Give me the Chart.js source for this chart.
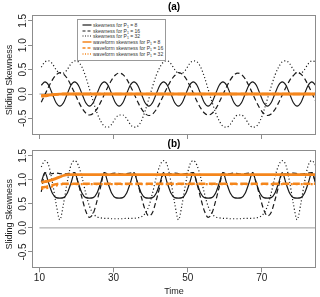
<!DOCTYPE html>
<html><head><meta charset="utf-8">
<script src="https://cdn.jsdelivr.net/npm/chart.js@4.4.1/dist/chart.umd.min.js"></script>
<style>
html,body{margin:0;padding:0;background:#fff;}
#wrap{position:relative;width:320px;height:297px;overflow:hidden;font-family:"Liberation Sans",Arial,sans-serif;}
canvas{position:absolute;left:0;}
#c1{top:0;} #c2{top:138px;}
#legend{position:absolute;left:77px;top:19px;width:89px;height:42px;border:1px solid #999;background:#fff;box-sizing:border-box;}
.row{position:absolute;left:0;height:6px;width:87px;}
.row svg{position:absolute;left:4px;top:0;}
.row span{position:absolute;left:15px;top:0;font-size:5px;line-height:6px;color:#333;white-space:nowrap;}
.row sub{font-size:3.5px;vertical-align:-1px;line-height:0;}
</style></head>
<body><div id="wrap">
<canvas id="c1" width="320" height="140"></canvas>
<canvas id="c2" width="320" height="159"></canvas>
<div id="legend"></div>
</div>
<script>
// ---------- data ----------
const time = [10.5,11.5,12.5,13.5,14.5,15.5,16.5,17.5,18.5,19.5,
  20.5,21.5,22.5,23.5,24.5,25.5,26.5,27.5,28.5,29.5,
  30.5,31.5,32.5,33.5,34.5,35.5,36.5,37.5,38.5,39.5,
  40.5,41.5,42.5,43.5,44.5,45.5,46.5,47.5,48.5,49.5,
  50.5,51.5,52.5,53.5,54.5,55.5,56.5,57.5,58.5,59.5,
  60.5,61.5,62.5,63.5,64.5,65.5,66.5,67.5,68.5,69.5,
  70.5,71.5,72.5,73.5,74.5,75.5,76.5,77.5,78.5,79.5,
  80.5,81.5,82.5,83.5,84.5];
const zeroTime = [10, 86];
const zeroValue = [0, 0];
const xTickValues = [10, 30, 50, 70];
const xTickLabels = ['10', '30', '50', '70'];
const yTickValues = [-0.5, 0, 0.5, 1, 1.5];
const yTickLabels = ['-0.5', '0.0', '0.5', '1.0', '1.5'];
const yTitle = 'Sliding Skewness';
const legendLabels = ['skewness for P<sub>1</sub> = 8','skewness for P<sub>1</sub> = 16','skewness for P<sub>1</sub> = 32',
  'waveform skewness for P<sub>1</sub> = 8','waveform skewness for P<sub>1</sub> = 16','waveform skewness for P<sub>1</sub> = 32'];

// panel (a)
const skewTopP8 = [0.18,
  0.25,0.18,0,-0.18,-0.25,-0.18,0,0.18,
  0.25,0.18,0,-0.18,-0.25,-0.18,0,0.18,
  0.25,0.18,0,-0.18,-0.25,-0.18,0,0.18,
  0.25,0.18,0,-0.18,-0.25,-0.18,0,0.18,
  0.25,0.18,0,-0.18,-0.25,-0.18,0,0.18,
  0.25,0.18,0,-0.18,-0.25,-0.18,0,0.18,
  0.25,0.18,0,-0.18,-0.25,-0.18,0,0.18,
  0.25,0.18,0,-0.18,-0.25,-0.18,0,0.18,
  0.25,0.18,0,-0.18,-0.25,-0.18,0,0.18,
  0.25,0.18];
const skewTopP16 = [-0.17,-0.01,0.15,0.29,0.39,
  0.44,0.41,0.32,0.18,0.02,-0.15,-0.29,-0.39,-0.43,-0.40,-0.31,-0.17,-0.01,0.15,0.29,0.39,
  0.43,0.40,0.31,0.17,0.01,-0.16,-0.30,-0.40,-0.44,-0.41,-0.32,-0.18,-0.02,0.14,0.28,0.38,
  0.44,0.41,0.32,0.18,0.02,-0.15,-0.29,-0.39,-0.43,-0.40,-0.31,-0.17,-0.01,0.15,0.29,0.39,
  0.43,0.40,0.31,0.17,0.01,-0.16,-0.30,-0.40,-0.44,-0.41,-0.32,-0.18,-0.02,0.14,0.28,0.38,
  0.44,0.41,0.32,0.18,0.02,-0.15];
const skewTopP32 = [
  0.55,0.66,0.68,0.62,0.50,0.43,0.43,0.50,0.62,0.68,0.66,0.55,0.35,0.10,-0.15,-0.38,
  -0.55,-0.66,-0.68,-0.62,-0.50,-0.43,-0.43,-0.50,-0.62,-0.68,-0.66,-0.55,-0.35,-0.10,0.15,0.38,
  0.55,0.66,0.68,0.62,0.50,0.43,0.43,0.50,0.62,0.68,0.66,0.55,0.35,0.10,-0.15,-0.38,
  -0.55,-0.66,-0.68,-0.62,-0.50,-0.43,-0.43,-0.50,-0.62,-0.68,-0.66,-0.55,-0.35,-0.10,0.15,0.38,
  0.55,0.66,0.68,0.62,0.50,0.43,0.43,0.50,0.62,0.68,0.66];
const waveTopP8 = [-0.035,-0.03,-0.022,-0.015,-0.008,-0.003,
  0,0,0,0,0,0,0,0,0,0, 0,0,0,0,0,0,0,0,0,0, 0,0,0,0,0,0,0,0,0,0,
  0,0,0,0,0,0,0,0,0,0, 0,0,0,0,0,0,0,0,0,0, 0,0,0,0,0,0,0,0,0,0,
  0,0,0,0,0,0,0,0,0];
const waveTopP16 = [-0.045,-0.04,-0.03,-0.02,-0.012,-0.005,
  0,0,0,0,0,0,0,0,0,0, 0,0,0,0,0,0,0,0,0,0, 0,0,0,0,0,0,0,0,0,0,
  0,0,0,0,0,0,0,0,0,0, 0,0,0,0,0,0,0,0,0,0, 0,0,0,0,0,0,0,0,0,0,
  0,0,0,0,0,0,0,0,0];
const waveTopP32 = [-0.03,-0.025,-0.02,-0.012,-0.006,
  0,0,0,0,0,0,0,0,0,0, 0,0,0,0,0,0,0,0,0,0, 0,0,0,0,0,0,0,0,0,0,
  0,0,0,0,0,0,0,0,0,0, 0,0,0,0,0,0,0,0,0,0, 0,0,0,0,0,0,0,0,0,0,
  0,0,0,0,0,0,0,0,0,0];

// panel (b)
const skewBotP8 = [0.95,
  1.15,0.93,0.72,0.63,0.62,0.63,0.72,0.93,
  1.15,0.93,0.72,0.63,0.62,0.63,0.72,0.93,
  1.15,0.93,0.72,0.63,0.62,0.63,0.72,0.93,
  1.15,0.93,0.72,0.63,0.62,0.63,0.72,0.93,
  1.15,0.93,0.72,0.63,0.62,0.63,0.72,0.93,
  1.15,0.93,0.72,0.63,0.62,0.63,0.72,0.93,
  1.15,0.93,0.72,0.63,0.62,0.63,0.72,0.93,
  1.15,0.93,0.72,0.63,0.62,0.63,0.72,0.93,
  1.15,0.93,0.72,0.63,0.62,0.63,0.72,0.93,
  1.15,0.93];
const skewBotP16 = [0.75,
  1.15,1.12,1.13,1.14,1.13,1.12,1.13,1.14,1.15,0.92,0.62,0.35,0.22,0.30,0.55,0.85,
  1.15,1.12,1.13,1.14,1.13,1.12,1.13,1.14,1.15,0.93,0.64,0.38,0.25,0.32,0.57,0.86,
  1.15,1.12,1.13,1.14,1.13,1.12,1.13,1.14,1.15,0.92,0.62,0.35,0.22,0.30,0.55,0.85,
  1.15,1.12,1.13,1.14,1.13,1.12,1.13,1.14,1.15,0.93,0.64,0.38,0.25,0.32,0.57,0.86,
  1.15,1.12,1.13,1.14,1.13,1.12,1.13,1.14,1.15,0.92];
const skewBotP32 = [
  1.27,1.40,1.30,0.95,0.50,0.17,0.50,0.95,1.30,1.40,1.30,1.05,0.72,0.45,0.30,0.23,
  0.21,0.20,0.20,0.19,0.19,0.19,0.19,0.20,0.20,0.20,0.21,0.23,0.30,0.45,0.72,1.05,
  1.30,1.40,1.30,0.95,0.50,0.17,0.50,0.95,1.30,1.40,1.30,1.05,0.72,0.45,0.30,0.23,
  0.21,0.20,0.20,0.19,0.19,0.19,0.19,0.20,0.20,0.20,0.21,0.23,0.30,0.45,0.72,1.05,
  1.30,1.40,1.30,0.95,0.50,0.17,0.50,0.95,1.30,1.40,1.30];
const waveBotP8 = [0.95,0.96,0.98,1.00,1.03,1.06,1.09,1.11,
  1.11,1.11,1.11,1.11,1.11,1.11,1.11,1.11,1.11,1.11,
  1.11,1.11,1.11,1.11,1.11,1.11,1.11,1.11,1.11,1.11,
  1.11,1.11,1.11,1.11,1.11,1.11,1.11,1.11,1.11,1.11,
  1.11,1.11,1.11,1.11,1.11,1.11,1.11,1.11,1.11,1.11,
  1.11,1.11,1.11,1.11,1.11,1.11,1.11,1.11,1.11,1.11,
  1.11,1.11,1.11,1.11,1.11,1.11,1.11,1.11,1.11,1.11,
  1.11,1.11,1.11,1.11,1.11,1.11,1.11];
const waveBotP16 = [0.84,0.85,0.87,0.89,0.91,0.92,
  0.92,0.92,0.92,0.92,0.92,0.92,0.92,0.92,0.92,0.92,
  0.92,0.92,0.92,0.92,0.92,0.92,0.92,0.92,0.92,0.92,
  0.92,0.92,0.92,0.92,0.92,0.92,0.92,0.92,0.92,0.92,
  0.92,0.92,0.92,0.92,0.92,0.92,0.92,0.92,0.92,0.92,
  0.92,0.92,0.92,0.92,0.92,0.92,0.92,0.92,0.92,0.92,
  0.92,0.92,0.92,0.92,0.92,0.92,0.92,0.92,0.92,0.92,
  0.92,0.92,0.92,0.92,0.92,0.92,0.92,0.92,0.92];
const waveBotP32 = [0.81,0.82,0.84,0.86,0.88,0.90,0.91,
  0.91,0.91,0.91,0.91,0.91,0.91,0.91,0.91,0.91,0.91,
  0.91,0.91,0.91,0.91,0.91,0.91,0.91,0.91,0.91,0.91,
  0.91,0.91,0.91,0.91,0.91,0.91,0.91,0.91,0.91,0.91,
  0.91,0.91,0.91,0.91,0.91,0.91,0.91,0.91,0.91,0.91,
  0.91,0.91,0.91,0.91,0.91,0.91,0.91,0.91,0.91,0.91,
  0.91,0.91,0.91,0.91,0.91,0.91,0.91,0.91,0.91,0.91,
  0.91,0.91,0.91,0.91,0.91,0.91,0.91,0.91];

const all = {skewTopP8,skewTopP16,skewTopP32,waveTopP8,waveTopP16,waveTopP32,
  skewBotP8,skewBotP16,skewBotP32,waveBotP8,waveBotP16,waveBotP32};
for (const k in all) { if (all[k].length !== time.length) throw new Error(k + ' length ' + all[k].length); }

// ---------- styles ----------
const FONT = '"Liberation Sans", Arial, sans-serif';
Chart.defaults.font.family = FONT;
Chart.defaults.color = '#222';
const BLACK = '#1a1a1a', ORANGE = '#F5861C', GRAY = '#9a9a9a';

function series(x, y, color, w, dash) { return {x, y, color, w, dash}; }

const boxPlugin = {
  id: 'box',
  afterDatasetsDraw(chart) {
    const {ctx, chartArea: a} = chart;
    ctx.save();
    ctx.strokeStyle = '#8c8c8c';
    ctx.lineWidth = 1;
    const l = Math.round(a.left) + 0.5, t = Math.round(a.top) + 0.5;
    const r = Math.round(a.right) - 0.5, b = Math.round(a.bottom) - 0.5;
    ctx.strokeRect(l, t, r - l, b - t);
    // y axis title, R-style placement
    ctx.fillStyle = '#222';
    ctx.font = '9px ' + FONT;
    ctx.textAlign = 'center';
    ctx.textBaseline = 'middle';
    ctx.translate(10, (a.top + a.bottom) / 2 + 5);
    ctx.rotate(-Math.PI / 2);
    ctx.fillText(yTitle, 0, 0);
    ctx.restore();
  }
};

function panel(id, title, sets, showX) {
  return new Chart(document.getElementById(id), {
    type: 'line',
    data: { datasets: sets.map(s => ({
      data: s.x.map((t, i) => ({x: t, y: s.y[i]})),
      borderColor: s.color, borderWidth: s.w, borderDash: s.dash,
      pointRadius: 0, fill: false, cubicInterpolationMode: 'monotone', borderCapStyle: 'butt'
    })) },
    options: {
      responsive: false, animation: false, devicePixelRatio: 1,
      layout: {padding: {left: 0, right: 4, top: 0, bottom: 0}},
      plugins: {
        legend: {display: false}, tooltip: {enabled: false},
        title: {display: true, text: title, fullSize: false, color: '#000',
          font: {size: 10, weight: 'bold'}, padding: showX ? {top: 0, bottom: 0} : {top: 1.5, bottom: 1.5}}
      },
      scales: {
        x: {
          type: 'linear', min: 8, max: 84.6,
          afterBuildTicks: s => { s.ticks = xTickValues.map(v => ({value: v})); },
          afterFit: s => { s.height = showX ? 28.7 : 5; },
          grid: {drawOnChartArea: false, drawTicks: true, tickLength: 4, color: '#8c8c8c'},
          border: {display: false},
          ticks: {display: showX, padding: 0, font: {size: 10}, color: '#222',
            callback: (v, i) => xTickLabels[i]},
          title: {display: showX, text: 'Time', font: {size: 9}, color: '#222', padding: {top: 0, bottom: 0}}
        },
        y: {
          type: 'linear', min: -0.84, max: 1.62,
          afterBuildTicks: s => { s.ticks = yTickValues.map(v => ({value: v})); },
          afterFit: s => { s.width = 32; },
          grid: {drawOnChartArea: false, drawTicks: true, tickLength: 4, color: '#8c8c8c'},
          border: {display: false},
          ticks: {font: {size: 10}, color: '#222', minRotation: 90, maxRotation: 90,
            crossAlign: 'center', padding: -4, callback: (v, i) => yTickLabels[i]},
          title: {display: false}
        }
      }
    },
    plugins: [boxPlugin]
  });
}

const DASH = [5, 3], DOT = [1.1, 2.3], ODASH = [7, 3.5], ODOT = [2, 3];
panel('c1', '(a)', [
  series(time, waveTopP32, ORANGE, 2.2, ODOT),
  series(time, waveTopP16, ORANGE, 2.5, ODASH),
  series(time, waveTopP8, ORANGE, 2.8, []),
  series(time, skewTopP32, BLACK, 1.2, DOT),
  series(time, skewTopP16, BLACK, 1.2, DASH),
  series(time, skewTopP8, BLACK, 1.2, []),
  series(zeroTime, zeroValue, GRAY, 1, [])
], false);
panel('c2', '(b)', [
  series(time, waveBotP32, ORANGE, 2.2, ODOT),
  series(time, waveBotP16, ORANGE, 2.5, ODASH),
  series(time, waveBotP8, ORANGE, 2.8, []),
  series(time, skewBotP32, BLACK, 1.2, DOT),
  series(time, skewBotP16, BLACK, 1.2, DASH),
  series(time, skewBotP8, BLACK, 1.2, []),
  series(zeroTime, zeroValue, GRAY, 1, [])
], true);

// ---------- legend ----------
const legendStyles = [
  {c: BLACK, w: 1.2, d: ''}, {c: BLACK, w: 1.2, d: '3,2'}, {c: BLACK, w: 1.2, d: '1,1.5'},
  {c: ORANGE, w: 1.5, d: ''}, {c: ORANGE, w: 1.5, d: '3,2'}, {c: ORANGE, w: 1.5, d: '1,1.5'}
];
const legendRowTops = [2, 7.7, 13.4, 19.1, 24.8, 30.5];
const lg = document.getElementById('legend');
legendLabels.forEach((txt, i) => {
  const st = legendStyles[i];
  const row = document.createElement('div');
  row.className = 'row';
  row.style.top = legendRowTops[i] + 'px';
  row.innerHTML = '<svg width="10" height="6"><line x1="0.5" y1="3" x2="9.5" y2="3" stroke="' + st.c +
    '" stroke-width="' + st.w + '"' + (st.d ? ' stroke-dasharray="' + st.d + '"' : '') + '/></svg><span>' + txt + '</span>';
  lg.appendChild(row);
});
</script></body></html>
